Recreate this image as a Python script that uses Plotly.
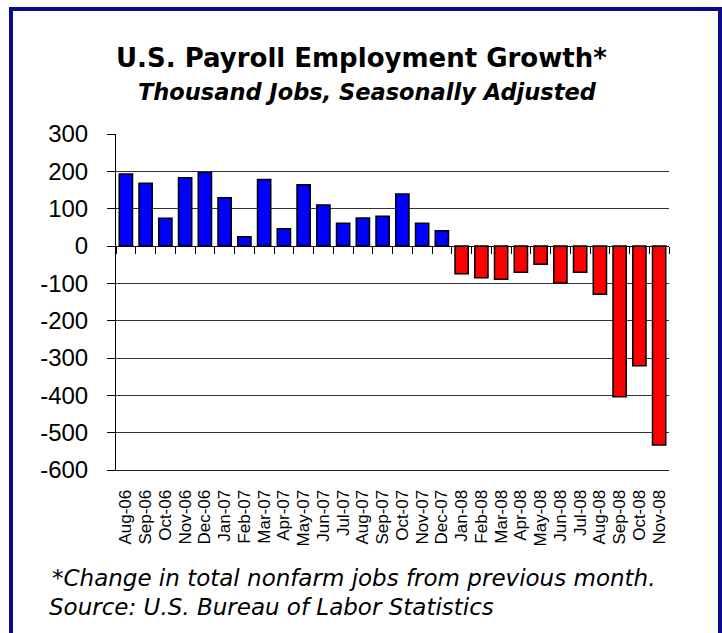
import plotly.graph_objects as go

months = ["Aug-06", "Sep-06", "Oct-06", "Nov-06", "Dec-06", "Jan-07", "Feb-07",
          "Mar-07", "Apr-07", "May-07", "Jun-07", "Jul-07", "Aug-07", "Sep-07",
          "Oct-07", "Nov-07", "Dec-07", "Jan-08", "Feb-08", "Mar-08", "Apr-08",
          "May-08", "Jun-08", "Jul-08", "Aug-08", "Sep-08", "Oct-08", "Nov-08"]
jobs_change = [193, 168, 74, 183, 197, 129, 25, 178, 46, 164, 110, 61, 75, 80,
               139, 61, 41, -74, -85, -89, -70, -49, -99, -70, -129, -404, -321, -533]
y_ticks = list(range(-600, 301, 100))
y_tick_labels = [str(v) for v in y_ticks]

title_text = "<b>U.S. Payroll Employment Growth*</b>"
subtitle_text = "<b><i>Thousand Jobs, Seasonally Adjusted</i></b>"
note_text = "<i>*Change in total nonfarm jobs from previous month.</i>"
source_text = "<i>Source: U.S. Bureau of Labor Statistics</i>"

W, H = 722, 633
L, R, T, B = 116, 669, 134, 470   # plot area in pixels
pw, ph = R - L, B - T


def px(x):
    return (x - L) / pw


def py(y):
    return (B - y) / ph


colors = ["#0000FF" if v >= 0 else "#FF0000" for v in jobs_change]

fig = go.Figure()
fig.add_trace(go.Bar(x=months, y=jobs_change, marker=dict(color=colors, line=dict(color="black", width=1.5)),
                     showlegend=False, hoverinfo="x+y"))
fig.add_trace(go.Scatter(x=months, y=[None] * len(months), xaxis="x2", mode="markers",
                         showlegend=False, hoverinfo="skip"))

axis_font = "Liberation Sans, Arial, sans-serif"
fig.update_layout(
    width=W, height=H,
    margin=dict(l=L, r=W - R, t=T, b=H - B, pad=0),
    paper_bgcolor="white", plot_bgcolor="white",
    bargap=0.33,
    xaxis=dict(type="category", categoryorder="array", categoryarray=months,
               range=[-0.5, len(months) - 0.5], tickangle=-90,
               tickmode="array", tickvals=months, ticktext=months,
               tickfont=dict(family=axis_font, size=17, color="black"),
               ticklabelstandoff=12,
               ticks="", showgrid=False, showline=True, linecolor="#222", linewidth=1,
               zeroline=False, fixedrange=True),
    xaxis2=dict(type="category", overlaying="x", anchor="free", position=600 / 900,
                matches="x", showticklabels=False, ticks="outside", tickson="boundaries",
                ticklen=7, tickcolor="black", tickwidth=1, showgrid=False,
                showline=True, linecolor="black", linewidth=1, zeroline=False),
    yaxis=dict(range=[-600, 300], tickvals=y_ticks, ticktext=y_tick_labels,
               showgrid=True, gridcolor="#333",
               gridwidth=1, showline=True, linecolor="black", linewidth=1,
               ticks="outside", ticklen=8, tickcolor="black", zeroline=False,
               ticklabelstandoff=14,
               tickfont=dict(family=axis_font, size=24, color="black"), fixedrange=True),
    font=dict(family="DejaVu Sans", color="black"),
)

fig.add_annotation(text=title_text, xref="paper", yref="paper", x=px(361), y=py(58),
                   xanchor="center", yanchor="middle", showarrow=False,
                   font=dict(family="DejaVu Sans", size=26, color="black"))
fig.add_annotation(text=subtitle_text, xref="paper", yref="paper", x=px(367), y=py(92),
                   xanchor="center", yanchor="middle", showarrow=False,
                   font=dict(family="DejaVu Sans", size=22.5, color="black"))
fig.add_annotation(text=note_text, xref="paper", yref="paper", x=px(50), y=py(578),
                   xanchor="left", yanchor="middle", showarrow=False,
                   font=dict(family="DejaVu Sans", size=23, color="black"))
fig.add_annotation(text=source_text, xref="paper", yref="paper", x=px(47), y=py(607),
                   xanchor="left", yanchor="middle", showarrow=False,
                   font=dict(family="DejaVu Sans", size=23, color="black"))

fig.add_shape(type="rect", xref="paper", yref="paper",
              x0=px(11), x1=px(720), y0=py(645), y1=py(9),
              line=dict(color="#0a0a8c", width=4), fillcolor="rgba(0,0,0,0)", layer="above")

fig.write_html("out.html")
